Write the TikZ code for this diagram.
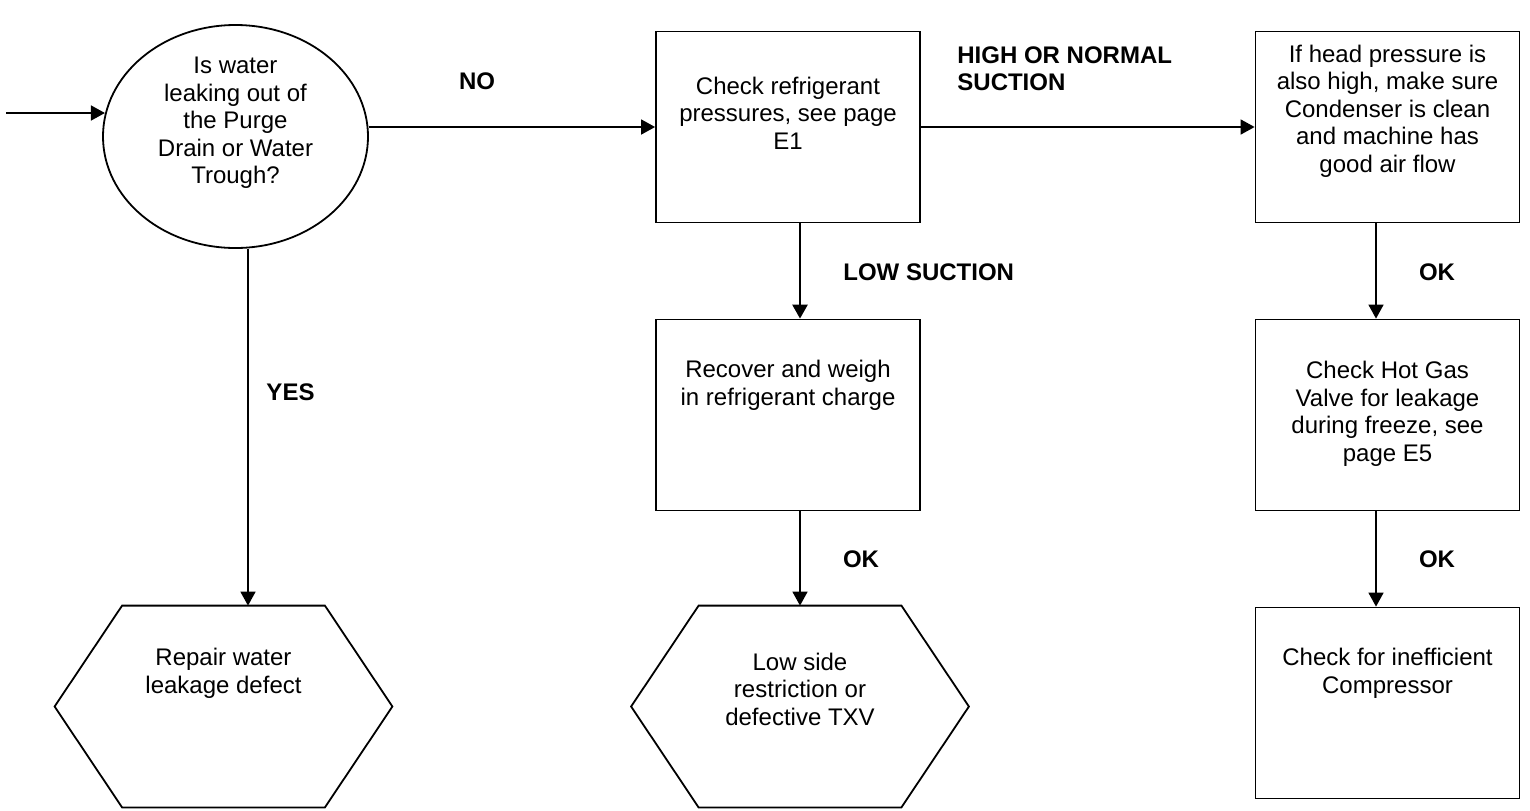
\documentclass[tikz,border=0pt]{standalone}
\usepackage{fontspec}
\setmainfont{Liberation Sans}
\usetikzlibrary{arrows.meta,shapes.geometric}

\begin{document}
\begin{tikzpicture}[
  x=0.5pt,y=-0.5pt,
  box/.style={draw,line width=0.9pt,minimum width=132pt,minimum height=95.5pt,inner sep=0pt},
  oval/.style={ellipse,draw,line width=0.9pt,minimum width=132.5pt,minimum height=111.5pt,inner sep=0pt},
  hexbox/.style={minimum width=168.5pt,minimum height=100.5pt,inner sep=0pt},
  body/.style={align=center,inner sep=0pt,font=\fontsize{12}{13.75}\selectfont},
  tag/.style={inner sep=0pt,font=\fontsize{12}{13.75}\selectfont\bfseries},
  arrow/.style={-{Triangle[length=7pt,width=7.5pt]},line width=0.8pt},
  heavy/.style={arrow,line width=1.3pt}
]
  \path[fill=white] (0,0) rectangle (1530,810);

  % shapes
  \node[oval] (ask) at (235.5,136.5) {};
  \node[box] (chk) at (788,127) {};
  \node[box] (head) at (1387.5,127) {};
  \node[box] (recover) at (788,415) {};
  \node[box] (hotgas) at (1387.5,415) {};
  \node[box] (comp) at (1387.5,703) {};
  \node[hexbox] (repair) at (223.5,706.5) {};
  \node[hexbox] (lowside) at (800,706.5) {};
  \foreach \h in {repair,lowside}
    \draw[line width=0.9pt] ([xshift=33.75pt]\h.north west) -- ([xshift=-33.75pt]\h.north east)
      -- (\h.east) -- ([xshift=-33.75pt]\h.south east) -- ([xshift=33.75pt]\h.south west)
      -- (\h.west) -- cycle;

  % texts
  \node[body] (askt) at (235.5,123) {Is water\\leaking out of\\the Purge\\Drain or Water\\Trough?};
  \node[body] (chkt) at (788,113) {Check refrigerant\\pressures, see page\\E1};
  \node[body] (headt) at (1387.5,111) {If head pressure is\\also high, make sure\\Condenser is clean\\and machine has\\good air flow};
  \node[body] (recovert) at (788,385.5) {Recover and weigh\\in refrigerant charge};
  \node[body] (hotgast) at (1387.5,414) {Check Hot Gas\\Valve for leakage\\during freeze, see\\page E5};
  \node[body] (compt) at (1387.5,673.5) {Check for inefficient\\Compressor};
  \node[body] (repairt) at (223.5,673.5) {Repair water\\leakage defect};
  \node[body] (lowsidet) at (800,689) {Low side\\restriction or\\defective TXV};

  % connectors
  \coordinate (in) at (6,113);
  \draw[arrow] (in) -- (in -| ask.170);
  \draw[arrow] (ask.east |- chk.west) -- (chk.west);
  \draw[arrow] ([xshift=6.25pt]ask.south) -- ([xshift=6.25pt]ask.south |- repair.north);
  \draw[arrow] (chk.east) -- (head.west);
  \draw[heavy] ([xshift=6pt]chk.south) -- ([xshift=6pt]chk.south |- recover.north);
  \draw[arrow] ([xshift=6pt]recover.south) -- (lowside.north);
  \draw[arrow] ([xshift=-5.75pt]head.south) -- ([xshift=-5.75pt]hotgas.north);
  \draw[arrow] ([xshift=-5.75pt]hotgas.south) -- ([xshift=-5.75pt]comp.north);

  % labels
  \node[tag] (no) at (477,81) {NO};
  \node[tag,align=left,anchor=west] (high) at (957,68.5) {HIGH OR NORMAL\\SUCTION};
  \node[tag,anchor=west] (lowsuc) at (843,272) {LOW SUCTION};
  \node[tag] (yes) at (290.5,392) {YES};
  \node[tag] (ok1) at (861,559) {OK};
  \node[tag] (ok2) at (1437,272) {OK};
  \node[tag] (ok3) at (1437,559) {OK};
\end{tikzpicture}
\end{document}
